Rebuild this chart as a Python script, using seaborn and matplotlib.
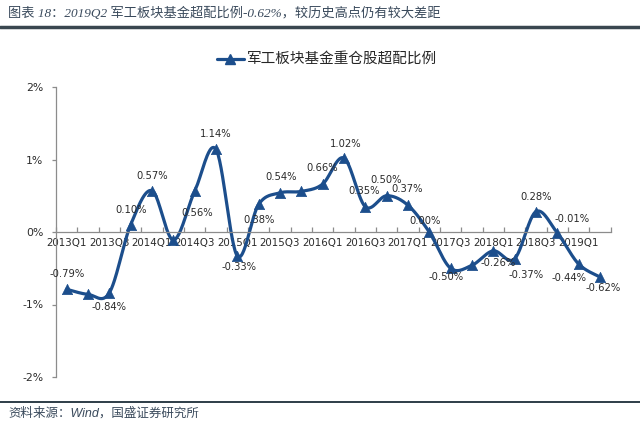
import numpy as np
import pandas as pd
import matplotlib
matplotlib.use("Agg")
import matplotlib.pyplot as plt
from matplotlib.lines import Line2D
import seaborn as sns

# ---------------- data ----------------
quarters = ["2013Q1", "2013Q2", "2013Q3", "2013Q4", "2014Q1", "2014Q2", "2014Q3", "2014Q4",
            "2015Q1", "2015Q2", "2015Q3", "2015Q4", "2016Q1", "2016Q2", "2016Q3", "2016Q4",
            "2017Q1", "2017Q2", "2017Q3", "2017Q4", "2018Q1", "2018Q2", "2018Q3", "2018Q4",
            "2019Q1", "2019Q2"]
values = [-0.79, -0.86, -0.84, 0.10, 0.57, -0.11, 0.56, 1.14,
          -0.33, 0.38, 0.54, 0.56, 0.66, 1.02, 0.35, 0.50,
          0.37, 0.00, -0.50, -0.46, -0.26, -0.37, 0.28, -0.01,
          -0.44, -0.62]
# which points carry a data label
labelled = [True, False, True, True, True, False, True, True,
            True, True, True, False, True, True, True, True,
            True, True, True, False, True, True, True, True,
            True, True]
y_ticks = [-2, -1, 0, 1, 2]
series_name = "军工板块基金重仓股超配比例"
title_text = "图表 18：2019Q2 军工板块基金超配比例-0.62%，较历史高点仍有较大差距"
source_text = "资料来源：Wind，国盛证券研究所"

# label offsets in pixels (style only)
label_offsets = [(0, 15), None, (0, -14), (0, 15), (0, 15), None, (3, -22), (0, 15),
                 (2, -11), (0, -16), (1, 16), None, (0, 16), (2, 14), (-1, 16), (0, 16),
                 (-1, 16), (-4, 11), (-4, -9), None, (5, -12), (12, -16), (0, 15), (15, 14),
                 (-9, -14), (3, -11)]

# ---------------- style ----------------
sns.set_theme(style="white")
plt.rcParams['font.family'] = ['DejaVu Sans', 'Noto Sans CJK SC']
line_color = "#1C4E8C"
axis_color = "#8C8C8C"
text_color = "#2B2B2B"

df = pd.DataFrame({"quarter": quarters, "value": values})
df["x"] = np.arange(len(df))

# Excel-style smoothing (Catmull-Rom / Bezier with 1/6 control points)
P = df[["x", "value"]].to_numpy(dtype=float)
Pext = np.vstack([P[0], P, P[-1]])
sx, sy = [], []
t = np.linspace(0, 1, 30)
for i in range(len(P) - 1):
    p0, p1, p2, p3 = Pext[i], Pext[i + 1], Pext[i + 2], Pext[i + 3]
    c1 = p1 + (p2 - p0) / 6.0
    c2 = p2 - (p3 - p1) / 6.0
    b = ((1 - t) ** 3)[:, None] * p1 + (3 * (1 - t) ** 2 * t)[:, None] * c1 \
        + (3 * (1 - t) * t ** 2)[:, None] * c2 + (t ** 3)[:, None] * p2
    sx.extend(b[:, 0]); sy.extend(b[:, 1])
smooth = pd.DataFrame({"x": sx, "y": sy})

fig = plt.figure(figsize=(6.4, 4.22), dpi=100)
ax = fig.add_axes([56 / 640, (422 - 377) / 422, 554.5 / 640, 290 / 422])

sns.lineplot(data=smooth, x="x", y="y", ax=ax, color=line_color, linewidth=2.3,
             sort=False, estimator=None)
sns.scatterplot(data=df, x="x", y="value", ax=ax, marker="^", s=55, color=line_color,
                edgecolor=line_color, linewidth=0.5, zorder=5)

ax.set_xlim(-0.5, len(quarters) - 0.5)
ax.set_ylim(-2, 2)
ax.set_xlabel("")
ax.set_ylabel("")

# axes styling
for s in ["top", "right"]:
    ax.spines[s].set_visible(False)
ax.spines["bottom"].set_position(("data", 0))
ax.spines["bottom"].set_color(axis_color)
ax.spines["left"].set_color(axis_color)
ax.spines["bottom"].set_linewidth(0.9)
ax.spines["left"].set_linewidth(0.9)

ax.set_yticks(y_ticks)
ax.set_yticklabels([f"{v}%" for v in y_ticks], fontsize=7.8, color=text_color)
ax.tick_params(axis="y", direction="out", length=3, width=0.9, color=axis_color, pad=6, left=True)

ax.set_xticks(df["x"][::2])
ax.set_xticklabels(df["quarter"][::2], fontsize=7.4, color=text_color)
ax.set_xticks(np.arange(-0.5, len(quarters), 1.0), minor=True)
ax.tick_params(axis="x", which="major", length=0, pad=4, bottom=True)
ax.tick_params(axis="x", which="minor", direction="in", length=3.5, width=0.9,
               color=axis_color, bottom=True)

# data labels
for xi, v, lab, off in zip(df["x"], df["value"], labelled, label_offsets):
    if lab and off is not None:
        ax.annotate(f"{v:.2f}%", (xi, v), xytext=off, textcoords="offset pixels",
                    ha="center", va="center", fontsize=7.2, color=text_color, zorder=6)

# legend
handle = Line2D([0], [0], color=line_color, linewidth=2.3, marker="^", markersize=7)
fig.legend([handle], [series_name], loc="center", bbox_to_anchor=(327 / 640, 1 - 60 / 422),
           frameon=False, handlelength=1.9, handletextpad=0.2,
           prop={"family": ["Noto Sans CJK SC"], "size": 10.5})

# title and source
fig.text(8 / 640, 1 - 13 / 422, title_text, ha="left", va="center", fontsize=9.5,
         color="#3A4A5C", family=["Liberation Serif", "Noto Sans CJK SC"], style="italic")
fig.add_artist(Line2D([0, 1], [1 - 27 / 422, 1 - 27 / 422], transform=fig.transFigure,
                      color="#3A4750", linewidth=2.5))
fig.add_artist(Line2D([0, 1], [1 - 402 / 422, 1 - 402 / 422], transform=fig.transFigure,
                      color="#2E3D48", linewidth=1.4))
fig.text(8 / 640, 1 - 413 / 422, source_text, ha="left", va="center", fontsize=9,
         color="#3A4A5C", family=["Liberation Sans", "Noto Sans CJK SC"], style="italic")

fig.savefig("out.png", dpi=100)
